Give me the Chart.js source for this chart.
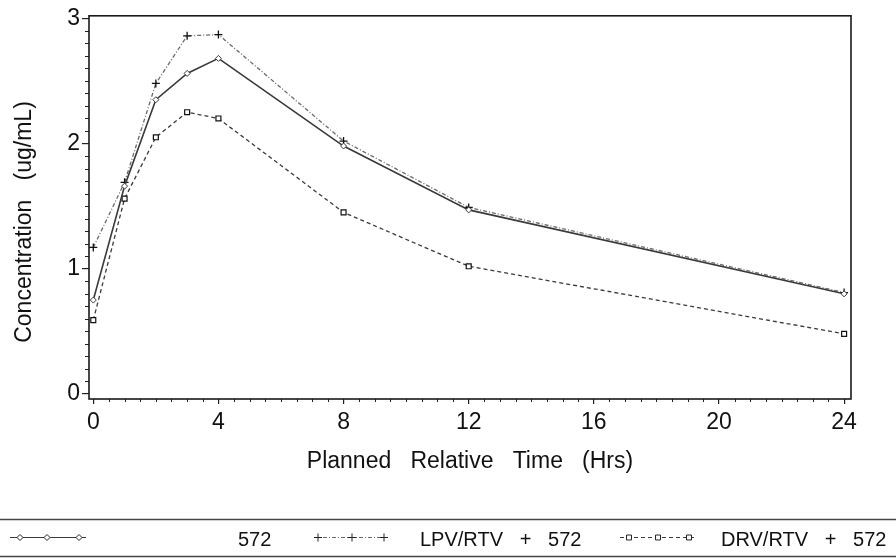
<!DOCTYPE html>
<html>
<head>
<meta charset="utf-8">
<script src="https://cdn.jsdelivr.net/npm/chart.js@4.4.1/dist/chart.umd.min.js"></script>
<style>
  html, body { margin: 0; padding: 0; background: #fff; }
  #wrap { width: 896px; height: 558px; position: relative; }
</style>
</head>
<body>
<div id="wrap"><canvas id="pkChart" width="896" height="558"></canvas></div>
<script>
// planned sampling times (hrs) and mean concentrations (ug/mL)
var hours = [0, 1, 2, 3, 4, 8, 12, 24];
var conc572 = [0.75, 1.66, 2.35, 2.56, 2.68, 1.98, 1.47, 0.80];
var concLpv = [1.17, 1.69, 2.48, 2.86, 2.87, 2.02, 1.49, 0.81];
var concDrv = [0.59, 1.56, 2.05, 2.25, 2.20, 1.45, 1.02, 0.48];
var seriesNames = ['572', 'LPV/RTV   +   572', 'DRV/RTV   +   572'];
var xTicks = [0, 4, 8, 12, 16, 20, 24];
var yTicks = [0, 1, 2, 3];
var yTitle = 'Concentration   (ug/mL)';

var FONT = '"Liberation Sans", Arial, Helvetica, sans-serif';
var INK = '#111';

function points(vals) {
    return hours.map(function (h, i) { return { x: h, y: vals[i] }; });
}

// frame box, minor ticks, y title and the boxed legend row at the bottom
var pkDecor = {
    id: 'pkDecor',
    beforeDatasetsDraw: function (chart) {
        var ctx = chart.ctx;
        var a = chart.chartArea;
        var xs = chart.scales.x;
        var ys = chart.scales.y;
        ctx.save();
        ctx.strokeStyle = '#222';
        ctx.lineWidth = 1;
        ctx.beginPath();
        for (var h = 0; h <= 24.001; h += 0.5) {
            if (Math.abs(h % 4) < 1e-6) continue;
            var px = Math.round(xs.getPixelForValue(h)) + 0.5;
            ctx.moveTo(px, a.bottom);
            ctx.lineTo(px, a.bottom + 3);
        }
        for (var k = 1; k < 30; k++) {
            if (k % 10 === 0) continue;
            var py = Math.round(ys.getPixelForValue(k / 10)) + 0.5;
            ctx.moveTo(a.left - 4, py);
            ctx.lineTo(a.left, py);
        }
        ctx.stroke();
        ctx.lineWidth = 1.6;
        ctx.strokeStyle = '#1a1a1a';
        ctx.strokeRect(a.left, a.top, a.right - a.left, a.bottom - a.top);

        // y title, rotated, sitting a little below the plot's middle
        ctx.translate(25, 222);
        ctx.rotate(-Math.PI / 2);
        ctx.fillStyle = INK;
        ctx.font = '23px ' + FONT;
        ctx.textAlign = 'center';
        ctx.textBaseline = 'middle';
        ctx.fillText(yTitle, 0, 0);
        ctx.restore();
    },
    afterDraw: function (chart) {
        var ctx = chart.ctx;
        var W = chart.width;
        ctx.save();
        ctx.strokeStyle = '#444';
        ctx.lineWidth = 1.5;
        ctx.beginPath();
        ctx.moveTo(0, 519.5); ctx.lineTo(W, 519.5);
        ctx.moveTo(0, 556.5); ctx.lineTo(W, 556.5);
        ctx.stroke();

        var rows = [
            { x0: 10, x1: 86, marks: [20, 47, 79], tx: 238 },
            { x0: 314, x1: 388, marks: [318, 352, 384], tx: 420 },
            { x0: 620, x1: 695, marks: [629, 658, 689], tx: 721 }
        ];
        var y = 537;
        chart.data.datasets.forEach(function (ds, i) {
            var r = rows[i];
            ctx.save();
            ctx.strokeStyle = ds.borderColor;
            ctx.lineWidth = 1;
            ctx.setLineDash(ds.borderDash || []);
            ctx.beginPath();
            ctx.moveTo(r.x0, y + 0.5);
            ctx.lineTo(r.x1, y + 0.5);
            ctx.stroke();
            ctx.restore();
            r.marks.forEach(function (mx) {
                ctx.save();
                ctx.setLineDash([]);
                ctx.fillStyle = '#fff';
                ctx.strokeStyle = '#222';
                ctx.lineWidth = 1;
                Chart.helpers.drawPoint(ctx, {
                    pointStyle: ds.pointStyle,
                    radius: ds.pointRadius,
                    rotation: 0,
                    borderWidth: 1
                }, mx, y + 0.5);
                ctx.restore();
            });
            ctx.fillStyle = INK;
            ctx.font = '20px ' + FONT;
            ctx.textBaseline = 'middle';
            ctx.textAlign = 'left';
            ctx.fillText(ds.label, r.tx, y + 3);
        });
        ctx.restore();
    }
};

var ctx = document.getElementById('pkChart');
var chart = new Chart(ctx, {
    type: 'line',
    data: {
        datasets: [
            {
                label: seriesNames[0],
                data: points(conc572),
                borderColor: '#3a3a3a',
                borderWidth: 1.6,
                pointStyle: 'rectRot',
                pointRadius: 3,
                pointBorderColor: '#3a3a3a',
                pointBackgroundColor: '#fff',
                pointBorderWidth: 1,
                tension: 0
            },
            {
                label: seriesNames[1],
                data: points(concLpv),
                borderColor: '#6a6a6a',
                borderWidth: 1.3,
                borderDash: [4, 2, 1, 2],
                pointStyle: 'cross',
                pointRadius: 4,
                pointBorderColor: '#111',
                pointBorderWidth: 1.3,
                tension: 0
            },
            {
                label: seriesNames[2],
                data: points(concDrv),
                borderColor: '#3a3a3a',
                borderWidth: 1.3,
                borderDash: [4, 3],
                pointStyle: 'rect',
                pointRadius: 3.5,
                pointBorderColor: '#111',
                pointBackgroundColor: '#fff',
                pointBorderWidth: 1.2,
                tension: 0
            }
        ]
    },
    options: {
        responsive: false,
        animation: false,
        layout: { padding: { top: 12, right: 45, bottom: 68, left: 0 } },
        plugins: {
            legend: { display: false },
            tooltip: { enabled: false }
        },
        scales: {
            x: {
                type: 'linear',
                min: -0.137,
                max: 24.22,
                afterBuildTicks: function (scale) {
                    scale.ticks = xTicks.map(function (v) { return { value: v }; });
                },
                afterFit: function (scale) { scale.height = 91; },
                border: { display: false },
                grid: { drawOnChartArea: false, drawTicks: true, tickLength: 5, color: '#222', lineWidth: 1.2 },
                ticks: { color: INK, font: { family: FONT, size: 23 }, padding: 5, maxRotation: 0, autoSkip: false },
                title: {
                    display: true,
                    text: 'Planned   Relative   Time   (Hrs)',
                    color: INK,
                    font: { family: FONT, size: 23 },
                    padding: { top: 0, bottom: 15 }
                }
            },
            y: {
                min: -0.04,
                max: 3.02,
                afterBuildTicks: function (scale) {
                    scale.ticks = yTicks.map(function (v) { return { value: v }; });
                },
                afterFit: function (scale) { scale.width = 89; },
                border: { display: false },
                grid: { drawOnChartArea: false, drawTicks: true, tickLength: 7, color: '#222', lineWidth: 1.2 },
                ticks: { color: INK, font: { family: FONT, size: 23 }, padding: 2 },
                title: { display: false }
            }
        }
    },
    plugins: [pkDecor]
});
</script>
</body>
</html>
